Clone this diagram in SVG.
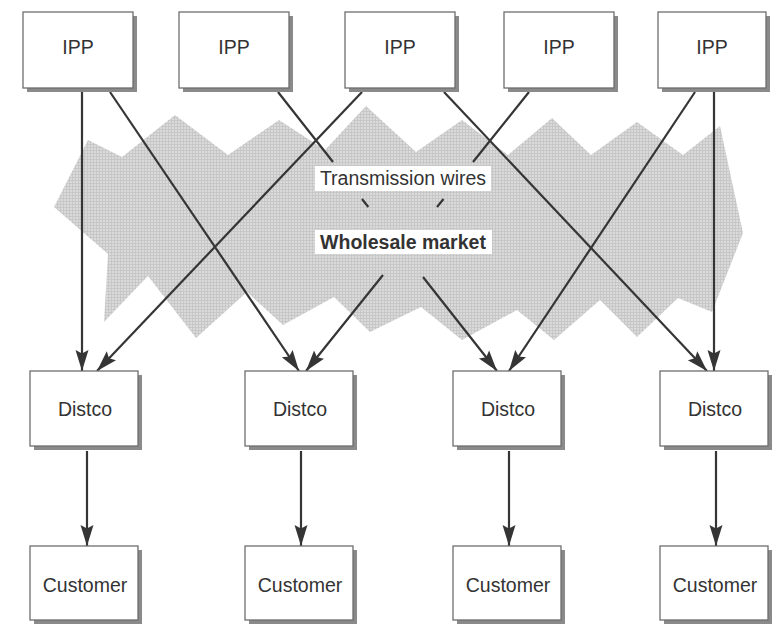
<svg xmlns="http://www.w3.org/2000/svg" width="774" height="626" viewBox="0 0 774 626">
<defs>
<style>
.box{fill:#fff;stroke:#6e6e6e;stroke-width:1.3}
.shadow{fill:#8a8a8a}
.lbl{font-family:"Liberation Sans",Arial,Helvetica,sans-serif;font-size:19.5px;fill:#333;text-anchor:middle}
.bold{font-weight:bold}
.conn{fill:none;stroke:#353535;stroke-width:2.2}
.arrow{marker-end:url(#arr)}
.lblbg{fill:#fff}
</style>
<marker id="arr" markerUnits="userSpaceOnUse" markerWidth="24" markerHeight="16" refX="21" refY="7" orient="auto">
<path d="M0,0.5 L21,7 L0,13.5 L3.5,7 Z" fill="#353535"/>
</marker>
<pattern id="hatch" width="3" height="3" patternUnits="userSpaceOnUse">
<rect width="3" height="3" fill="#dadada"/>
<path d="M0,0.5H3M0.5,0V3" stroke="#c4c4c4" stroke-width="0.8"/>
</pattern>
</defs>
<rect width="774" height="626" fill="#fff"/>

<g id="wholesale-area">
<polygon fill="url(#hatch)" points="54,207 88,140 122,157 175,115 228,155 279,120 325,150 366,106 416,152 462,120 508,155 552,118 591,155 637,122 683,155 720,126 743,233 712,312 678,298 637,337 600,300 554,340 517,310 462,340 421,307 370,332 334,297 283,325 247,292 196,338 148,276 104,322 108,254"/>
</g>

<g id="connectors">
<path class="conn arrow" d="M82,92 L82,371"/>
<path class="conn arrow" d="M110,92 L299,371"/>
<path class="conn arrow" d="M362,92 L97,371"/>
<path class="conn arrow" d="M444,92 L707,371"/>
<path class="conn arrow" d="M695,92 L509,371"/>
<path class="conn arrow" d="M714,92 L714,371"/>
<path class="conn arrow" d="M278,92 L333,162 M362,199 L368.3,207 M423,277 L497,371"/>
<path class="conn arrow" d="M529,92 L473,162 M443.5,199 L437,207 M383,275 L306,371"/>
<path class="conn arrow" d="M87,451 L87,546"/>
<path class="conn arrow" d="M301,451 L301,546"/>
<path class="conn arrow" d="M509,451 L509,546"/>
<path class="conn arrow" d="M716,451 L716,546"/>
</g>

<g id="label-transmission-wires">
<rect class="lblbg" x="315" y="166" width="176" height="25"/>
<text class="lbl" x="403" y="185">Transmission wires</text>
</g>
<g id="label-wholesale-market">
<rect class="lblbg" x="315" y="230" width="177" height="24"/>
<text class="lbl bold" x="403" y="249">Wholesale market</text>
</g>

<g id="ipp1"><rect class="shadow" x="27" y="16" width="110" height="76"/><rect class="box" x="23" y="12" width="110" height="76"/><text class="lbl" x="78" y="54">IPP</text></g>
<g id="ipp2"><rect class="shadow" x="183" y="16" width="110" height="76"/><rect class="box" x="179" y="12" width="110" height="76"/><text class="lbl" x="234" y="54">IPP</text></g>
<g id="ipp3"><rect class="shadow" x="349" y="16" width="110" height="76"/><rect class="box" x="345" y="12" width="110" height="76"/><text class="lbl" x="400" y="54">IPP</text></g>
<g id="ipp4"><rect class="shadow" x="508" y="16" width="110" height="76"/><rect class="box" x="504" y="12" width="110" height="76"/><text class="lbl" x="559" y="54">IPP</text></g>
<g id="ipp5"><rect class="shadow" x="662" y="16" width="108" height="76"/><rect class="box" x="658" y="12" width="108" height="76"/><text class="lbl" x="712" y="54">IPP</text></g>

<g id="distco1"><rect class="shadow" x="34" y="375" width="108" height="75"/><rect class="box" x="30" y="371" width="108" height="75"/><text class="lbl" x="85" y="416">Distco</text></g>
<g id="distco2"><rect class="shadow" x="249" y="375" width="108" height="75"/><rect class="box" x="245" y="371" width="108" height="75"/><text class="lbl" x="300" y="416">Distco</text></g>
<g id="distco3"><rect class="shadow" x="457" y="375" width="108" height="75"/><rect class="box" x="453" y="371" width="108" height="75"/><text class="lbl" x="508" y="416">Distco</text></g>
<g id="distco4"><rect class="shadow" x="664" y="375" width="108" height="75"/><rect class="box" x="660" y="371" width="108" height="75"/><text class="lbl" x="715" y="416">Distco</text></g>

<g id="customer1"><rect class="shadow" x="34" y="550" width="108" height="74"/><rect class="box" x="30" y="546" width="108" height="74"/><text class="lbl" x="85" y="592">Customer</text></g>
<g id="customer2"><rect class="shadow" x="249" y="550" width="108" height="74"/><rect class="box" x="245" y="546" width="108" height="74"/><text class="lbl" x="300" y="592">Customer</text></g>
<g id="customer3"><rect class="shadow" x="457" y="550" width="108" height="74"/><rect class="box" x="453" y="546" width="108" height="74"/><text class="lbl" x="508" y="592">Customer</text></g>
<g id="customer4"><rect class="shadow" x="664" y="550" width="108" height="74"/><rect class="box" x="660" y="546" width="108" height="74"/><text class="lbl" x="715" y="592">Customer</text></g>
</svg>
